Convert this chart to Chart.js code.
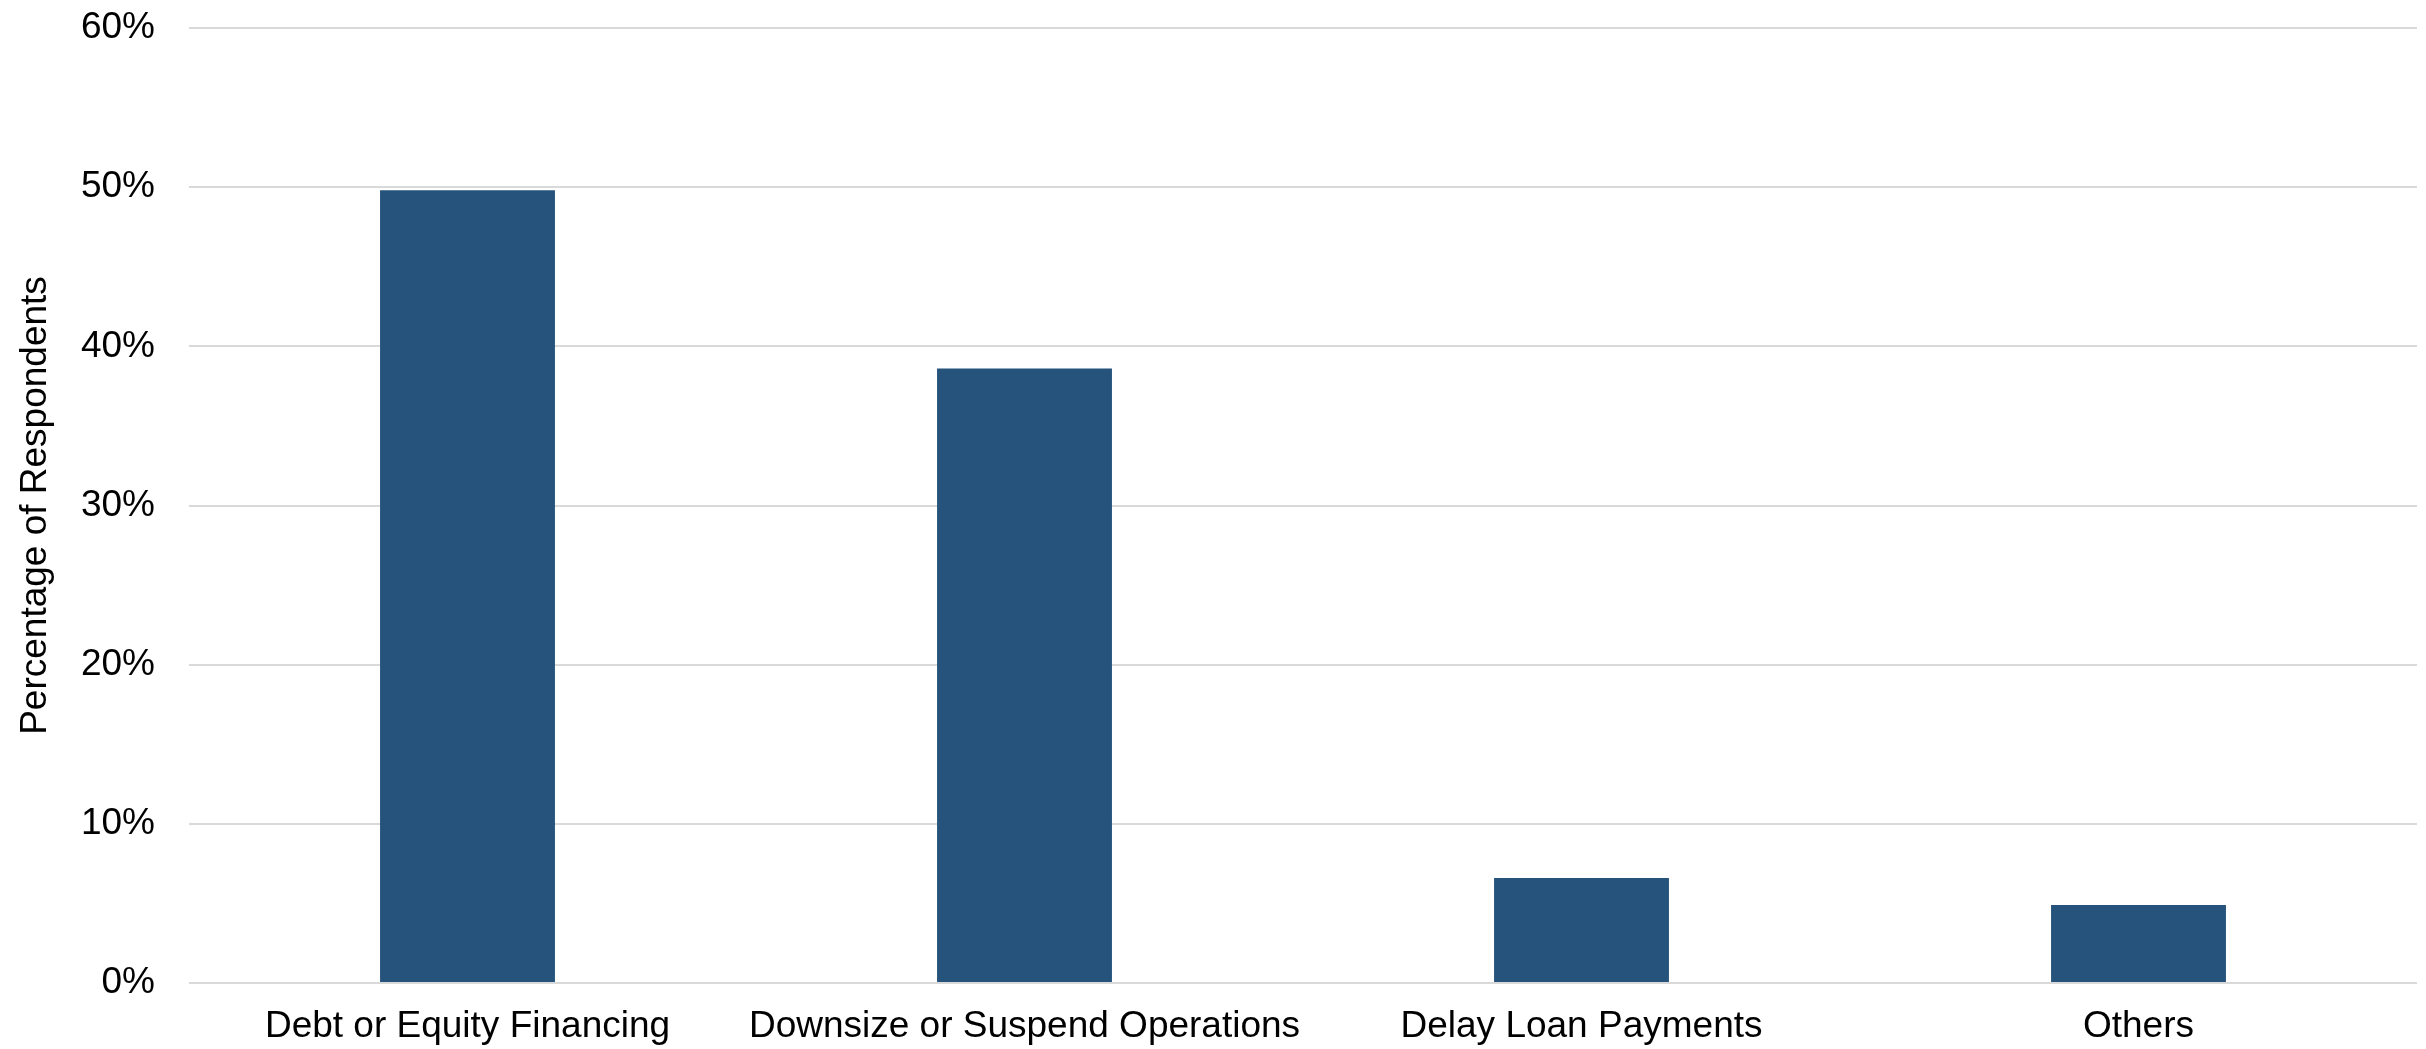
<!DOCTYPE html>
<html>
<head>
<meta charset="utf-8">
<script src="https://cdn.jsdelivr.net/npm/chart.js@4"></script>
<style>
  html, body { margin: 0; padding: 0; background: #fff; }
  #wrap { width: 2426px; height: 1049px; }
</style>
</head>
<body>
<div id="wrap"><canvas id="responseChart"></canvas></div>
<script>
const categories = [
  'Debt or Equity Financing',
  'Downsize or Suspend Operations',
  'Delay Loan Payments',
  'Others'
];
const shares = [49.8, 38.6, 6.6, 4.9];
const yMax = 60;
const yStep = 10;

const ctx = document.getElementById('responseChart').getContext('2d');

const responseChart = new Chart(ctx, {
  type: 'bar',
  data: {
    labels: categories,
    datasets: [
      {
        label: 'Respondents',
        data: shares,
        backgroundColor: '#26537b',
        barPercentage: 0.314,
        categoryPercentage: 1
      }
    ]
  },
  options: {
    responsive: true,
    maintainAspectRatio: false,
    animation: false,
    layout: {
      padding: { top: 28, right: 9, bottom: 0, left: 0 }
    },
    scales: {
      x: {
        grid: { display: false, drawTicks: false },
        border: { display: false },
        ticks: {
          color: '#000',
          padding: 22,
          autoSkip: false,
          maxRotation: 0,
          minRotation: 0,
          font: { family: 'Liberation Sans, Arial, sans-serif', size: 37 }
        },
        afterFit: (scale) => { scale.height = 66; }
      },
      y: {
        min: 0,
        max: yMax,
        grid: {
          color: '#d9d9d9',
          lineWidth: 2,
          drawTicks: false
        },
        border: { display: false },
        ticks: {
          stepSize: yStep,
          color: '#000',
          padding: 34,
          font: { family: 'Liberation Sans, Arial, sans-serif', size: 37 },
          callback: (v) => v + '%'
        },
        title: {
          display: true,
          text: 'Percentage of Respondents',
          color: '#000',
          padding: { top: 14, bottom: 0 },
          font: { family: 'Liberation Sans, Arial, sans-serif', size: 37 }
        },
        // fixed axis width; tick padding must not push the plot top down
        afterFit: (scale) => {
          scale.width = 189;
          scale.paddingTop = 0;
          scale.paddingBottom = 0;
        }
      }
    },
    plugins: {
      legend: { display: false },
      tooltip: { enabled: false }
    }
  }
});
</script>
</body>
</html>
